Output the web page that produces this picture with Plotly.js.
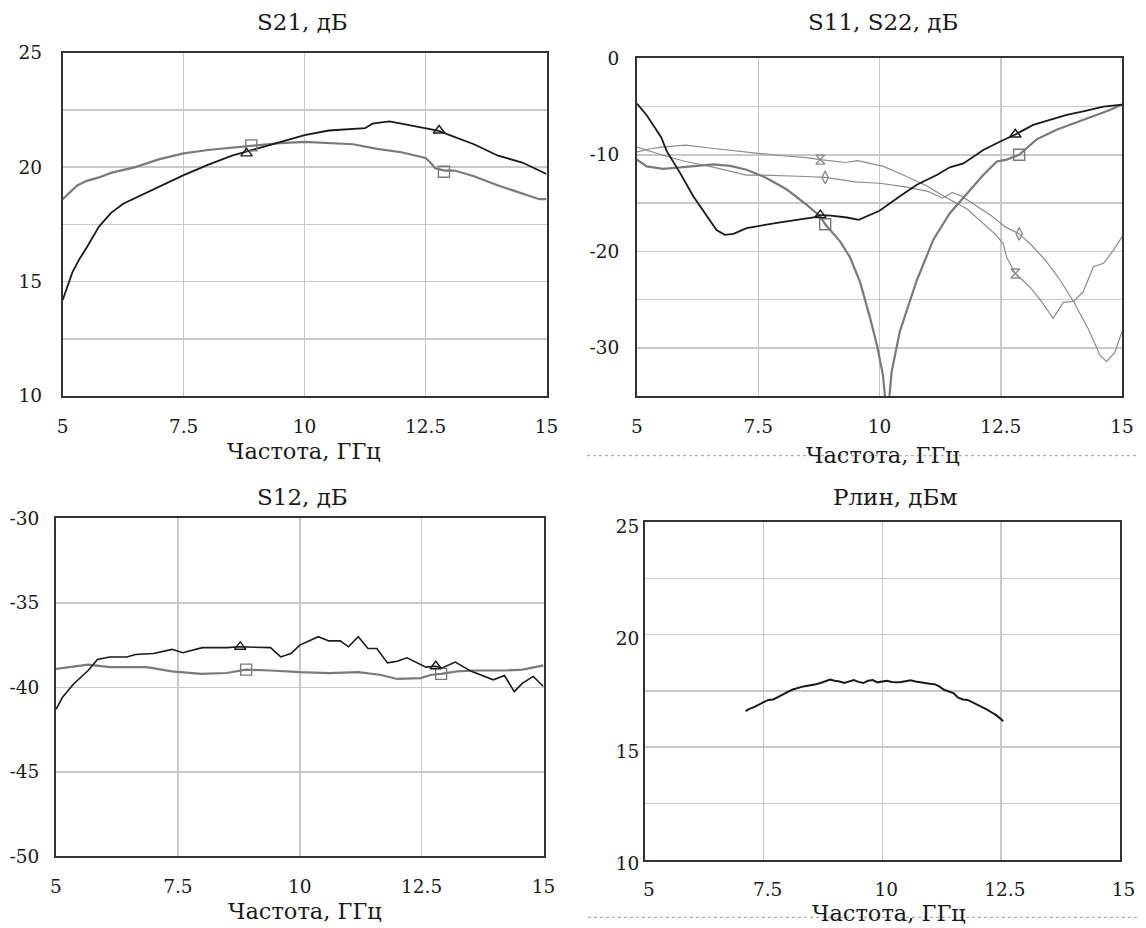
<!DOCTYPE html>
<html>
<head>
<meta charset="utf-8">
<script src="https://cdn.plot.ly/plotly-3.0.1.min.js"></script>
<style>html,body{margin:0;padding:0;background:#fff;}#chart{width:1146px;height:928px;}</style>
</head>
<body>
<div id="chart"></div>
<script>
// ---------- DATA ----------
// Panel 1: S21, dB
var s21MeasX = [5.0,5.1,5.2,5.35,5.5,5.75,6.0,6.25,6.5,7.0,7.5,8.0,8.5,9.0,9.5,10.0,10.5,11.0,11.25,11.4,11.75,12.0,12.5,12.75,13.0,13.5,14.0,14.5,15.0];
var s21MeasY = [14.2,14.8,15.4,16.0,16.5,17.4,18.0,18.4,18.65,19.15,19.65,20.1,20.5,20.8,21.1,21.4,21.6,21.65,21.7,21.9,22.0,21.9,21.7,21.6,21.4,21.0,20.5,20.2,19.7];
var s21ModX = [5.0,5.15,5.3,5.5,5.75,6.0,6.5,7.0,7.5,8.0,8.5,8.9,9.5,10.0,10.5,11.0,11.5,12.0,12.5,12.6,12.7,12.9,13.1,13.5,14.0,14.5,14.85,15.0];
var s21ModY = [18.6,18.9,19.2,19.4,19.55,19.75,20.0,20.35,20.6,20.75,20.85,20.95,21.05,21.1,21.05,21.0,20.8,20.65,20.4,20.2,19.95,19.85,19.85,19.6,19.2,18.85,18.6,18.6];
var s21TriX = [8.8,12.78], s21TriY = [20.6,21.6];
var s21SqX = [8.9,12.88], s21SqY = [20.95,19.8];

// Panel 2: S11, S22, dB
var s11MeasX = [5.0,5.2,5.37,5.5,5.61,5.89,6.16,6.44,6.64,6.81,6.99,7.26,7.47,7.95,8.64,8.78,9.0,9.33,9.57,10.0,10.42,10.77,11.18,11.45,11.73,12.14,12.5,12.8,13.17,13.5,13.86,14.2,14.62,15.0];
var s11MeasY = [-4.7,-5.9,-7.2,-8.2,-9.6,-11.9,-14.3,-16.4,-17.8,-18.3,-18.2,-17.6,-17.4,-17.0,-16.5,-16.25,-16.3,-16.5,-16.75,-15.8,-14.3,-13.1,-12.1,-11.3,-10.9,-9.5,-8.6,-7.9,-6.9,-6.4,-5.86,-5.5,-5.0,-4.8];
var s22MeasX = [5.0,5.2,5.54,5.89,6.37,6.58,6.92,7.26,7.67,8.09,8.5,8.78,8.88,9.19,9.39,9.6,9.8,9.95,10.07,10.16,10.25,10.42,10.77,11.11,11.45,11.8,12.14,12.42,12.62,12.88,13.24,13.65,14.2,14.75,15.0];
var s22MeasY = [-10.5,-11.2,-11.45,-11.3,-11.05,-11.0,-11.15,-11.55,-12.4,-13.6,-15.2,-16.4,-17.2,-19.0,-20.6,-23.2,-26.8,-29.8,-32.8,-37.5,-32.5,-28.3,-23.0,-18.8,-16.06,-14.0,-12.1,-10.7,-10.5,-10.0,-8.4,-7.4,-6.4,-5.35,-4.8];
var s11ModX = [5.0,5.25,5.5,6.0,6.5,7.0,7.5,8.0,8.5,8.78,9.0,9.3,9.55,9.8,10.08,10.49,10.97,11.2,11.4,11.8,12.14,12.4,12.55,12.62,12.8,13.1,13.34,13.58,13.79,14.0,14.2,14.41,14.62,14.82,15.0];
var s11ModY = [-9.7,-9.4,-9.2,-9.0,-9.3,-9.6,-9.85,-10.1,-10.3,-10.5,-10.6,-10.8,-10.6,-10.9,-11.2,-12.1,-13.2,-13.9,-14.5,-15.6,-17.1,-18.3,-19.2,-20.6,-22.3,-23.7,-25.2,-26.95,-25.3,-25.2,-24.2,-21.6,-21.25,-19.9,-18.5];
var s22ModX = [5.0,5.5,6.0,6.5,7.0,7.25,7.5,8.0,8.5,8.88,9.2,9.5,10.0,10.5,11.0,11.3,11.5,11.7,12.0,12.3,12.6,12.88,13.1,13.4,13.7,14.0,14.3,14.55,14.68,14.85,15.0];
var s22ModY = [-9.2,-10.0,-10.7,-11.2,-11.8,-12.1,-12.1,-12.15,-12.25,-12.35,-12.6,-12.8,-12.95,-13.3,-13.8,-14.5,-13.9,-14.3,-15.3,-16.3,-17.5,-18.2,-19.2,-20.8,-22.8,-25.2,-28.0,-30.8,-31.45,-30.5,-28.3];
var s11TriX = [8.78,12.8], s11TriY = [-16.25,-7.9];
var s22SqX = [8.88,12.88], s22SqY = [-17.2,-10.0];
var s11HgX = [8.78,12.8], s11HgY = [-10.5,-22.3];
var s22DmX = [8.88,12.88], s22DmY = [-12.35,-18.2];

// Panel 3: S12, dB
var s12MeasX = [5.0,5.13,5.36,5.66,5.85,6.1,6.45,6.63,7.0,7.38,7.6,8.0,8.5,8.78,9.4,9.61,9.82,10.0,10.38,10.6,10.83,11.0,11.2,11.4,11.58,11.8,12.0,12.2,12.59,12.79,12.92,13.19,13.52,13.75,13.97,14.2,14.4,14.57,14.79,15.0];
var s12MeasY = [-41.3,-40.6,-39.8,-39.0,-38.35,-38.2,-38.2,-38.05,-38.0,-37.75,-37.95,-37.65,-37.65,-37.6,-37.65,-38.2,-38.0,-37.5,-37.0,-37.25,-37.25,-37.6,-37.0,-37.7,-37.7,-38.55,-38.45,-38.25,-38.8,-38.75,-38.85,-38.5,-39.05,-39.3,-39.55,-39.3,-40.25,-39.75,-39.35,-39.95];
var s12ModX = [5.0,5.36,5.66,6.1,6.86,7.38,7.98,8.5,8.9,9.4,10.0,10.6,11.2,11.64,12.0,12.48,12.7,12.9,13.22,13.6,14.2,14.57,15.0];
var s12ModY = [-38.9,-38.75,-38.65,-38.8,-38.8,-39.05,-39.2,-39.15,-38.95,-39.0,-39.1,-39.15,-39.1,-39.25,-39.5,-39.45,-39.25,-39.2,-39.05,-39.0,-39.0,-38.95,-38.7];
var s12TriX = [8.78,12.79], s12TriY = [-37.6,-38.75];
var s12SqX = [8.9,12.9], s12SqY = [-38.95,-39.2];

// Panel 4: P lin, dBm
var plinX = [7.12,7.2,7.3,7.4,7.5,7.6,7.7,7.8,7.9,8.0,8.1,8.2,8.3,8.4,8.5,8.6,8.7,8.8,8.9,9.0,9.1,9.2,9.3,9.4,9.5,9.6,9.7,9.8,9.9,10.0,10.1,10.2,10.3,10.4,10.5,10.6,10.7,10.8,10.9,11.0,11.1,11.2,11.3,11.4,11.5,11.6,11.7,11.8,11.9,12.0,12.1,12.2,12.3,12.4,12.5,12.55];
var plinY = [16.6,16.7,16.78,16.9,17.0,17.1,17.12,17.22,17.35,17.45,17.55,17.62,17.68,17.72,17.75,17.8,17.85,17.92,18.0,17.95,17.92,17.85,17.93,17.98,17.9,17.85,17.95,17.98,17.88,17.93,17.95,17.9,17.88,17.9,17.93,17.97,17.92,17.88,17.85,17.82,17.8,17.7,17.55,17.48,17.4,17.2,17.12,17.1,17.0,16.9,16.8,16.68,16.55,16.42,16.25,16.15];

// Ticks
var freqTicks = [5,7.5,10,12.5,15];
var freqLabels = ["5","7.5","10","12.5","15"];
var s21Ticks = [10,12.5,15,17.5,20,22.5,25];
var s21Labels = ["10","","15","","20","","25"];
var sParTicks = [0,-5,-10,-15,-20,-25,-30,-35];
var sParLabels = ["0","","-10","","-20","","-30",""];
var s12Ticks = [-30,-35,-40,-45,-50];
var s12Labels = ["-30","-35","-40","-45","-50"];
var plinTicks = [10,12.5,15,17.5,20,22.5,25];
var plinLabels = ["10","","15","","20","","25"];

// ---------- STYLE ----------
var FONT = "'DejaVu Serif', 'Liberation Serif', 'Times New Roman', serif";
var BLACK = "#1a1a1a", GRAY = "#7a7a7a", LGRAY = "#8c8c8c";
var TICK = 18.5, TITLE = 23, XTITLE = 22.5;

function line(x, y, color, width, xa, ya) {
  return {x: x, y: y, type: "scatter", mode: "lines", xaxis: xa, yaxis: ya,
          line: {color: color, width: width}, hoverinfo: "skip", showlegend: false};
}
function marks(x, y, symbol, color, size, xa, ya) {
  return {x: x, y: y, type: "scatter", mode: "markers", xaxis: xa, yaxis: ya,
          marker: {symbol: symbol, size: size, color: color, line: {color: color, width: 1.4}},
          hoverinfo: "skip", showlegend: false};
}

var traces = [
  line(s21ModX, s21ModY, GRAY, 2.2, "x", "y"),
  line(s21MeasX, s21MeasY, BLACK, 1.8, "x", "y"),
  marks(s21SqX, s21SqY, "square-open", GRAY, 11, "x", "y"),
  marks(s21TriX, s21TriY, "triangle-up-open", BLACK, 10, "x", "y"),

  line(s11ModX, s11ModY, LGRAY, 1.2, "x2", "y2"),
  line(s22ModX, s22ModY, LGRAY, 1.2, "x2", "y2"),
  line(s22MeasX, s22MeasY, GRAY, 2.2, "x2", "y2"),
  line(s11MeasX, s11MeasY, BLACK, 1.8, "x2", "y2"),
  marks(s11HgX, s11HgY, "hourglass-open", LGRAY, 9, "x2", "y2"),
  marks(s22DmX, s22DmY, "diamond-tall-open", LGRAY, 9, "x2", "y2"),
  marks(s22SqX, s22SqY, "square-open", GRAY, 11, "x2", "y2"),
  marks(s11TriX, s11TriY, "triangle-up-open", BLACK, 10, "x2", "y2"),

  line(s12ModX, s12ModY, GRAY, 2.2, "x3", "y3"),
  line(s12MeasX, s12MeasY, BLACK, 1.6, "x3", "y3"),
  marks(s12SqX, s12SqY, "square-open", GRAY, 11, "x3", "y3"),
  marks(s12TriX, s12TriY, "triangle-up-open", BLACK, 10, "x3", "y3"),

  line(plinX, plinY, BLACK, 2.0, "x4", "y4")
];

function xax(domain, anchor, standoff, shift) {
  return {domain: domain, anchor: anchor, range: [5, 15], tickmode: "array",
          tickvals: freqTicks, ticktext: freqLabels, showgrid: true, gridcolor: "#c9c9c9", gridwidth: 1.5,
          showline: true, linecolor: "#333", linewidth: 2, mirror: true, zeroline: false, ticks: "",
          ticklabelstandoff: standoff, ticklabelshift: shift,
          tickfont: {family: FONT, size: TICK, color: "#1a1a1a"}, fixedrange: true};
}
function yax(domain, anchor, range, vals, labels, standoff, shift) {
  return {domain: domain, anchor: anchor, range: range, tickmode: "array",
          tickvals: vals, ticktext: labels, showgrid: true, gridcolor: "#c9c9c9", gridwidth: 1.5,
          showline: true, linecolor: "#333", linewidth: 2, mirror: true, zeroline: false, ticks: "",
          ticklabelstandoff: standoff, ticklabelshift: shift,
          tickfont: {family: FONT, size: TICK, color: "#1a1a1a"}, fixedrange: true};
}

function ann(text, px, py, size) {
  return {text: text, xref: "paper", yref: "paper", x: px / 1146, y: 1 - py / 928,
          xanchor: "center", yanchor: "middle", showarrow: false,
          font: {family: FONT, size: size, color: "#1a1a1a"}};
}

var layout = {
  width: 1146, height: 928,
  margin: {l: 0, r: 0, t: 0, b: 0},
  paper_bgcolor: "#fff", plot_bgcolor: "#fff",
  showlegend: false,
  font: {family: FONT, color: "#1a1a1a"},
  xaxis: xax([0.05471, 0.47688], "y", 13, 0),
  yaxis: yax([0.57328, 0.94321], "x", [10, 25], s21Ticks, s21Labels, 15, 0),
  xaxis2: xax([0.55585, 0.97906], "y2", 13, 0),
  yaxis2: yax([0.57328, 0.93718], "x2", [-35, 0], sParTicks, sParLabels, 12, 0),
  xaxis3: xax([0.04887, 0.47426], "y3", 12, 0),
  yaxis3: yax([0.07705, 0.44149], "x3", [-50, -30], s12Ticks, s12Labels, 11, 0),
  xaxis4: xax([0.56283, 0.97688], "y4", 12, 4),
  yaxis4: yax([0.07381, 0.43718], "x4", [10, 25], plinTicks, plinLabels, 0, 4),
  annotations: [
    ann("S21, дБ", 302, 21.7, TITLE),
    ann("S11, S22, дБ", 883, 22.5, TITLE),
    ann("S12, дБ", 302, 497, TITLE),
    ann("Рлин, дБм", 895, 497, TITLE),
    ann("Частота, ГГц", 304, 451, XTITLE),
    ann("Частота, ГГц", 883, 455, XTITLE),
    ann("Частота, ГГц", 305, 911, XTITLE),
    ann("Частота, ГГц", 889, 913, XTITLE)
  ],
  shapes: [
    {type: "line", xref: "paper", yref: "paper", x0: 587/1146, x1: 1139/1146, y0: 1-455.7/928, y1: 1-455.7/928,
     line: {color: "#999", width: 1, dash: "dot"}},
    {type: "line", xref: "paper", yref: "paper", x0: 588/1146, x1: 1139/1146, y0: 1-917.3/928, y1: 1-917.3/928,
     line: {color: "#999", width: 1, dash: "dot"}}
  ]
};

Plotly.newPlot("chart", traces, layout, {displayModeBar: false, staticPlot: true});
</script>
</body>
</html>
